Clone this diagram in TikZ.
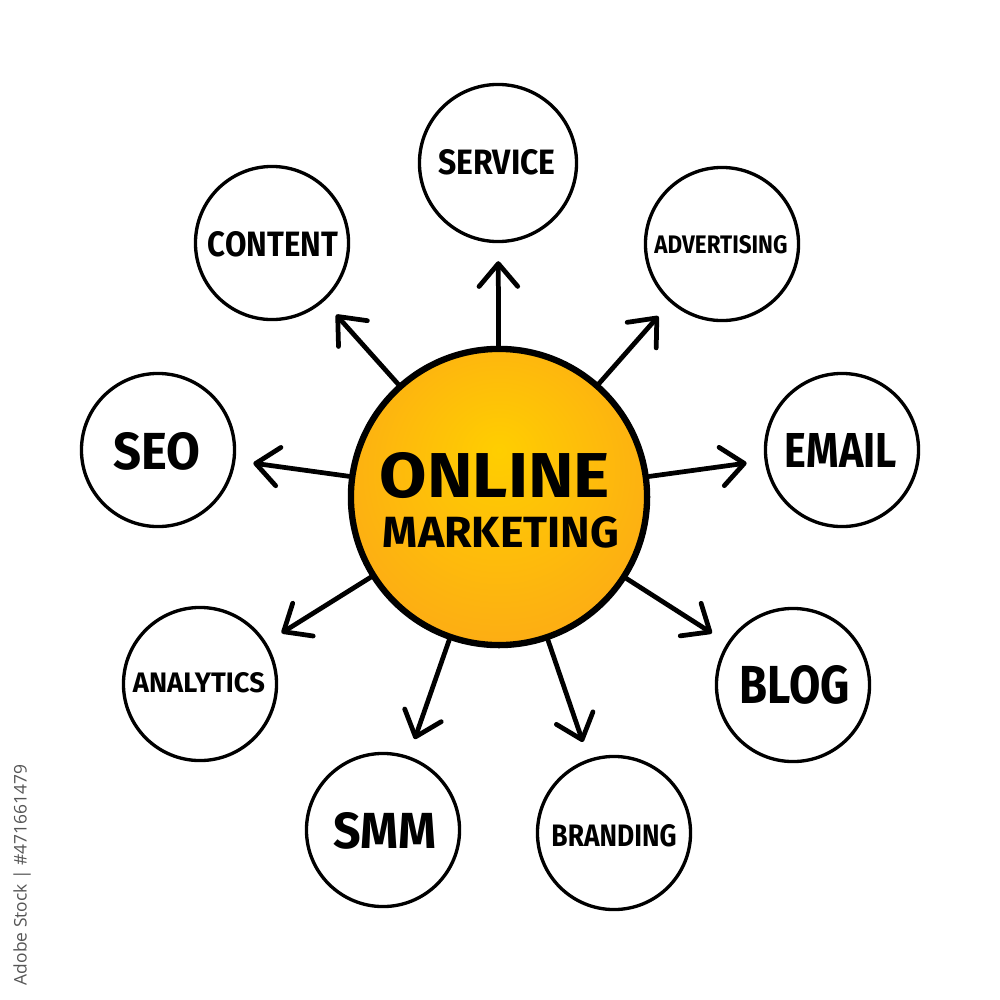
\documentclass[tikz,border=0pt]{standalone}
\usepackage{fontspec}
\setmainfont{Fira Sans}
\newfontfamily\wmfont{Open Sans}
\usetikzlibrary{arrows.meta}
\definecolor{ballin}{RGB}{255,206,0}
\definecolor{ballmid}{RGB}{253,176,18}
\definecolor{ballout}{RGB}{246,150,30}
\definecolor{wmgray}{RGB}{85,85,85}
\pgfdeclareradialshading{myball}{\pgfpoint{0bp}{8bp}}{color(0bp)=(ballin); color(26bp)=(ballmid); color(50bp)=(ballout)}
\newcommand\lbl[3]{\resizebox{#1}{#2}{\bfseries #3}}
\begin{document}
\begin{tikzpicture}[x=0.01cm,y=-0.01cm,
  outer/.style={circle, draw, line width=0.95pt, minimum size=1.53cm, inner sep=0pt},
  hub/.style={circle, draw, line width=1.8pt, minimum size=2.96cm, inner sep=0pt, shading=myball},
  txt/.style={inner sep=0pt},
  arr/.style={line width=1.35pt, line cap=round, line join=round, -{Straight Barb[length=6.5pt,width=11pt,line cap=round,line join=round]}, shorten >=0.18cm}]
\useasboundingbox[fill=white] (0,0) rectangle (1000,1000);

\node[hub] (c) at (499,497) {};
\node[txt] (online) at (495,476) {\lbl{2.3cm}{0.45cm}{ONLINE}};
\node[txt] (mkt) at (501,532) {\lbl{2.36cm}{0.31cm}{MARKETING}};

\node[outer, minimum size=1.57cm] (service) at (498,163) {};
\node[outer] (content) at (272,243) {};
\node[outer] (adv) at (722,244) {};
\node[outer] (seo) at (158,450) {};
\node[outer] (email) at (842,450) {};
\node[outer] (ana) at (200,684) {};
\node[outer] (blog) at (793,685) {};
\node[outer] (smm) at (383,830) {};
\node[outer] (brand) at (614,833) {};

\node[txt] at (497,162) {\lbl{1.17cm}{0.25cm}{SERVICE}};
\node[txt] at (273,244) {\lbl{1.30cm}{0.25cm}{CONTENT}};
\node[txt] at (721,245) {\lbl{1.33cm}{0.18cm}{ADVERTISING}};
\node[txt] at (157,451) {\lbl{0.87cm}{0.37cm}{SEO}};
\node[txt] at (841,450) {\lbl{1.12cm}{0.34cm}{EMAIL}};
\node[txt] at (199,683) {\lbl{1.32cm}{0.20cm}{ANALYTICS}};
\node[txt] at (795,685) {\lbl{1.10cm}{0.38cm}{BLOG}};
\node[txt] at (385,831) {\lbl{1.03cm}{0.36cm}{SMM}};
\node[txt] at (614,836) {\lbl{1.25cm}{0.22cm}{BRANDING}};

\draw[arr] (c) -- (service);
\draw[arr] (c) -- (content);
\draw[arr] (c) -- (adv);
\draw[arr] (c) -- (seo);
\draw[arr] (c) -- (email);
\draw[arr] (c) -- (ana);
\draw[arr] (c) -- (blog);
\draw[arr] (c) -- (smm);
\draw[arr] (c) -- (brand);

\node[txt, rotate=90, text=wmgray] (wm) at (22,875) {\resizebox{2.2cm}{!}{\wmfont Adobe Stock | \#471661479}};
\end{tikzpicture}
\end{document}
